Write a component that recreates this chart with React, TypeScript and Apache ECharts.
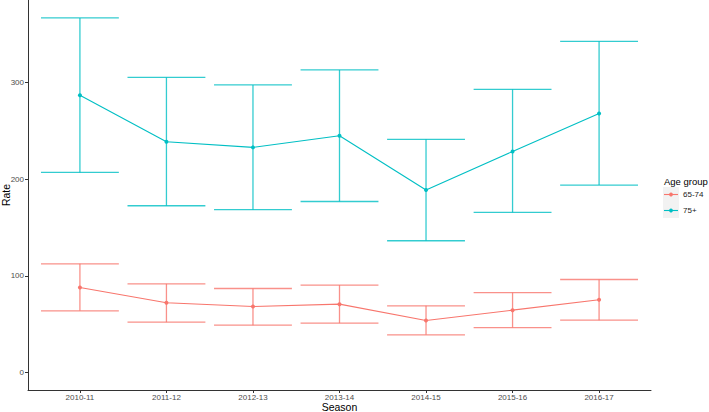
import React, { useEffect, useRef } from "react";
import * as echarts from "echarts";

const seasons = ["2010-11", "2011-12", "2012-13", "2013-14", "2014-15", "2015-16", "2016-17"];
const groupNames = ["65-74", "75+"];
const groupColors = ["#F8766D", "#00BFC4"];

const rate6574 = [87.9, 72.1, 68.3, 70.7, 53.8, 64.5, 75.2];
const lower6574 = [63.8, 52.1, 49.0, 51.1, 39.0, 46.5, 54.2];
const upper6574 = [112.4, 91.7, 86.9, 90.4, 69.0, 82.7, 96.2];

const rate75 = [286.5, 238.6, 232.7, 244.8, 188.6, 228.5, 267.8];
const lower75 = [206.8, 172.4, 168.3, 176.8, 136.2, 165.5, 193.8];
const upper75 = [366.5, 305.0, 297.2, 312.7, 241.0, 292.7, 342.3];

const yTicks = [0, 100, 200, 300];

const FONT = "'Liberation Sans', Arial, sans-serif";

export default function App() {
  const ref = useRef<HTMLDivElement>(null);

  useEffect(() => {
    if (!ref.current) return;
    const chart = echarts.init(ref.current, null, { renderer: "svg" });
    const idx = seasons.map((_, i) => i);
    const groups = [
      { name: groupNames[0], color: groupColors[0], rate: rate6574, lo: lower6574, hi: upper6574 },
      { name: groupNames[1], color: groupColors[1], rate: rate75, lo: lower75, hi: upper75 },
    ];

    const series: any[] = [];
    groups.forEach((g) => {
      series.push({
        type: "custom",
        name: g.name + " CI",
        data: idx.map((i) => [i, g.lo[i], g.hi[i]]),
        encode: { x: 0, y: [1, 2] },
        renderItem: (params: any, api: any) => {
          const x = api.value(0);
          const lo = api.value(1);
          const hi = api.value(2);
          const pLo = api.coord([x, lo]);
          const pHi = api.coord([x, hi]);
          const pLoL = api.coord([x - 0.45, lo]);
          const pLoR = api.coord([x + 0.45, lo]);
          const pHiL = api.coord([x - 0.45, hi]);
          const pHiR = api.coord([x + 0.45, hi]);
          const style = { stroke: g.color, lineWidth: 1.3, opacity: 0.8 };
          return {
            type: "group",
            children: [
              { type: "line", shape: { x1: pLo[0], y1: pLo[1], x2: pHi[0], y2: pHi[1] }, style },
              { type: "line", shape: { x1: pLoL[0], y1: pLoL[1], x2: pLoR[0], y2: pLoR[1] }, style },
              { type: "line", shape: { x1: pHiL[0], y1: pHiL[1], x2: pHiR[0], y2: pHiR[1] }, style },
            ],
          };
        },
        z: 2,
      });
      series.push({
        type: "line",
        name: g.name,
        data: idx.map((i) => [i, g.rate[i]]),
        symbol: "circle",
        symbolSize: 4,
        showSymbol: true,
        lineStyle: { color: g.color, width: 1.1 },
        itemStyle: { color: g.color },
        z: 3,
      });
    });

    const legendChildren: any[] = [
      {
        type: "text",
        x: 664,
        y: 181,
        style: { text: "Age group", font: `9.5px ${FONT}`, fill: "#000", verticalAlign: "middle" },
      },
      { type: "rect", shape: { x: 663, y: 187, width: 16, height: 31 }, style: { fill: "#f2f2f2" } },
    ];
    groups.forEach((g, k) => {
      const cy = 194.5 + k * 16;
      legendChildren.push(
        { type: "line", shape: { x1: 664, y1: cy, x2: 678, y2: cy }, style: { stroke: g.color, lineWidth: 1.1 } },
        { type: "circle", shape: { cx: 671, cy, r: 1.9 }, style: { fill: g.color } },
        {
          type: "text",
          x: 683,
          y: cy,
          style: { text: g.name, font: `8px ${FONT}`, fill: "#1a1a1a", verticalAlign: "middle" },
        }
      );
    });

    chart.setOption({
      animation: false,
      backgroundColor: "#ffffff",
      textStyle: { fontFamily: FONT },
      grid: { left: 28, right: 58, top: 0, bottom: 22, containLabel: false, outerBoundsMode: "none" },
      xAxis: {
        type: "value",
        min: -0.6,
        max: 6.6,
        name: "Season",
        nameLocation: "middle",
        nameGap: 11,
        nameMoveOverlap: false,
        nameTextStyle: { fontSize: 10.5, color: "#000", fontFamily: FONT, verticalAlign: "top" },
        axisLine: { show: true, onZero: false, lineStyle: { color: "#333333", width: 1 } },
        axisTick: { show: true, length: 3, customValues: idx, lineStyle: { color: "#333333" } },
        axisLabel: {
          customValues: idx,
          formatter: (v: number) => seasons[Math.round(v)] ?? "",
          fontSize: 8,
          color: "#4d4d4d",
          margin: 3,
          fontFamily: FONT,
        },
        splitLine: { show: false },
      },
      yAxis: {
        type: "value",
        min: -18,
        max: 385,
        name: "Rate",
        nameLocation: "middle",
        nameGap: 17,
        nameMoveOverlap: false,
        nameTextStyle: { fontSize: 10.5, color: "#000", fontFamily: FONT },
        axisLine: { show: true, onZero: false, lineStyle: { color: "#333333", width: 1 } },
        axisTick: { show: true, length: 3, customValues: yTicks, lineStyle: { color: "#333333" } },
        axisLabel: {
          customValues: yTicks,
          fontSize: 8,
          color: "#4d4d4d",
          margin: 4,
          fontFamily: FONT,
        },
        splitLine: { show: false },
      },
      series,
      graphic: [{ type: "group", children: legendChildren }],
    });

    return () => chart.dispose();
  }, []);

  return (
    <div
      ref={ref}
      style={{ position: "fixed", left: 0, top: 0, width: 709, height: 412, background: "#fff" }}
    />
  );
}
